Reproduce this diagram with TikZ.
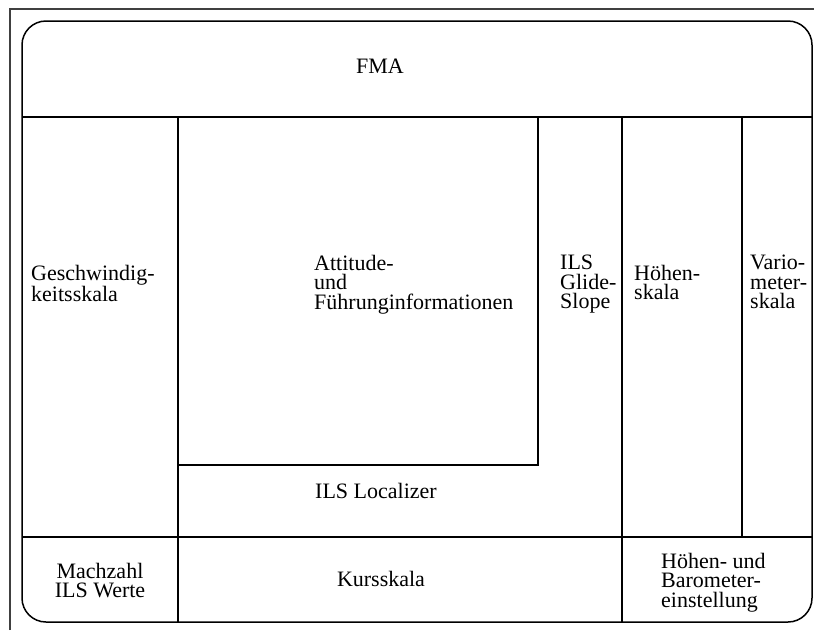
\documentclass[tikz,border=0pt]{standalone}
\usepackage{fontspec}
\setmainfont{Liberation Serif}
\begin{document}
\begin{tikzpicture}[x=1pt,y=-1pt,
  frame/.style={line width=1.2pt,draw=black!75},
  panel/.style={line width=1.5pt,draw=black},
  divider/.style={line width=1.5pt,draw=black},
  lbl/.style={inner sep=0pt,font=\fontsize{22}{19.3}\selectfont},
  lbll/.style={lbl,align=left,anchor=north west},
  lblc/.style={lbl,align=center,anchor=north}]
\useasboundingbox (0,0) rectangle (814,630);
% page frame, cut by the picture edge
\draw[frame] (10,630) -- (10,9) -- (814,9);
% display outline
\draw[panel,rounded corners=24pt] (22,21) rectangle (812,622);
% grid coordinates
\coordinate (tl) at (22,117);  \coordinate (tr) at (812,117);
\coordinate (bl) at (22,537);  \coordinate (br) at (812,537);
\coordinate (a1) at (178,117); \coordinate (a2) at (178,622);
\coordinate (c1) at (622,117); \coordinate (c2) at (622,622);
\coordinate (v1) at (742,117); \coordinate (v2) at (742,537);
\coordinate (p1) at (178,465); \coordinate (p2) at (538,465);
\coordinate (p3) at (538,117);
% dividers
\draw[divider] (tl) -- (tr);
\draw[divider] (bl) -- (br);
\draw[divider] (a1) -- (a2);
\draw[divider] (c1) -- (c2);
\draw[divider] (v1) -- (v2);
\draw[divider] (p1) -- (p2) -- (p3);
% labels
\node[lblc] (fma) at (380,59) {FMA};
\node[lbll] (speed) at (31,265) {Geschwindig-\\keitsskala};
\node[lbll] (att) at (314,255) {Attitude-\\und\\Führunginformationen};
\node[lbll] (gs) at (560,255) {ILS\\Glide-\\Slope};
\node[lbll] (alt) at (634,265) {Höhen-\\skala};
\node[lbll] (vs) at (750,255) {Vario-\\meter-\\skala};
\node[lblc] (loc) at (376,483) {ILS Localizer};
\node[lblc] (mach) at (100,563) {Machzahl\\ILS Werte};
\node[lblc] (hdg) at (381,571) {Kursskala};
\node[lbll] (baro) at (661,553) {Höhen- und\\Barometer-\\einstellung};
\end{tikzpicture}
\end{document}
